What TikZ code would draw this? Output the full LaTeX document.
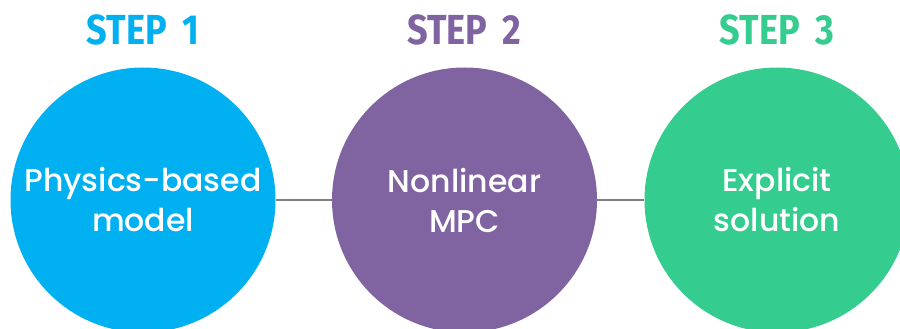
\documentclass[tikz,border=0pt]{standalone}
\usepackage{fontspec}
\setmainfont{Poppins}[UprightFont={* Medium}, BoldFont={* SemiBold}]
\newfontfamily\stepfont[FakeStretch=0.86]{Fira Sans}[BoldFont={* Bold}]
\usetikzlibrary{positioning}

\definecolor{stepblue}{HTML}{00B0F0}
\definecolor{steppurple}{HTML}{8064A2}
\definecolor{stepgreen}{HTML}{35CC90}
\definecolor{linkgray}{HTML}{7F7F7F}

\begin{document}
\begin{tikzpicture}[x=1pt,y=-1pt,
		stage/.style={circle, fill=#1, minimum size=265pt, inner sep=0pt,
			text=white, align=center, font=\fontsize{31.5}{40}\selectfont},
		steplabel/.style={text=#1, font=\stepfont\bfseries\fontsize{42}{42}\selectfont},
		link/.style={draw=linkgray, line width=1.5pt}
	]
		\useasboundingbox (0,0) rectangle (900,329);
		\clip (0,0) rectangle (900,329);

		% circles, then the connectors between them
		\node[stage=stepblue] (phys) at (143,200) {Physics-based\\model};
		\node[stage=steppurple] (nmpc) at (464.5,200) {Nonlinear\\MPC};
		\node[stage=stepgreen] (expl) at (777,200) {Explicit\\solution};
		\draw[link] (phys.east) -- (nmpc.west);
		\draw[link] (nmpc.east) -- (expl.west);

		% step titles
		\node[steplabel=stepblue] (s1) at (143,30) {STEP\ \,1};
		\node[steplabel=steppurple] (s2) at (464.5,30) {STEP\ \,2};
		\node[steplabel=stepgreen] (s3) at (777,30) {STEP\ \,3};
\end{tikzpicture}
\end{document}
